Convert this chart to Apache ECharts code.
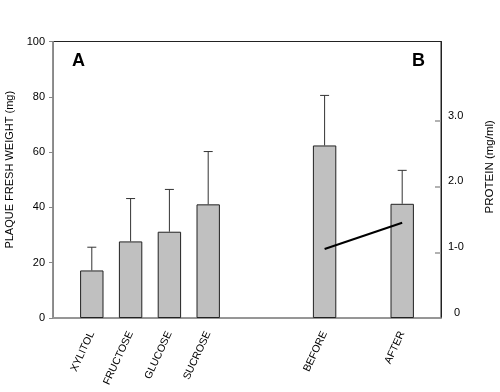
<!DOCTYPE html>
<html>
<head>
<meta charset="utf-8">
<script src="https://cdn.jsdelivr.net/npm/echarts@6/dist/echarts.min.js"></script>
<style>html,body{margin:0;padding:0;background:#fff}#c{width:500px;height:392px}</style>
</head>
<body>
<div id="c"></div>
<script>
// ---- data ----
var categories = ['', 'XYLITOL', 'FRUCTOSE', 'GLUCOSE', 'SUCROSE', '', '', 'BEFORE', '', 'AFTER', ''];
var weight      = [null, 17.2, 27.7, 31.2, 41.1, null, null, 62.4, null, 41.3, null];
var weightUpper = [null, 25.6, 43.2, 46.5, 60.2, null, null, 80.5, null, 53.4, null];
var proteinCats = ['BEFORE', 'AFTER'];
var protein     = [1.05, 1.45];
var leftTicks   = [0, 20, 40, 60, 80, 100];
var rightTicks  = [0, 1, 2, 3];
var rightTickText = {0: '  0', 1: '1-0', 2: '2.0', 3: '3.0'};

var FONT = 'Liberation Sans, Arial, sans-serif';
var chart = echarts.init(document.getElementById('c'));

var errData = [];
weight.forEach(function (v, i) { if (v != null) errData.push([i, v, weightUpper[i]]); });
var protData = proteinCats.map(function (c, i) { return [categories.indexOf(c), protein[i]]; });

chart.setOption({
  animation: false,
  grid: { left: 53, right: 59, top: 41.5, bottom: 74, show: true, borderColor: '#222', borderWidth: 1,
    containLabel: false, outerBoundsMode: 'none' },
  xAxis: {
    type: 'category', data: categories, boundaryGap: false,
    axisLine: { lineStyle: { color: '#999', width: 1.5 } },
    axisTick: { show: false },
    axisLabel: { interval: 0, rotate: 65, fontFamily: FONT, fontSize: 10.5, color: '#000', margin: 14 }
  },
  yAxis: [{
    type: 'value', min: 0, max: 100, interval: 20,
    name: 'PLAQUE FRESH WEIGHT (mg)', nameLocation: 'middle', nameGap: 35, nameRotate: 90,
    nameTextStyle: { fontFamily: FONT, fontSize: 11, color: '#000', padding: [0, 0, 0, 20] },
    axisLine: { show: true, lineStyle: { color: '#888' } },
    axisTick: { show: true, length: 4, lineStyle: { color: '#888' } },
    axisLabel: { fontFamily: FONT, fontSize: 11, color: '#000', margin: 8 },
    splitLine: { show: false }
  }, {
    type: 'value', min: 0, max: 4.21, position: 'right',
    name: 'PROTEIN (mg/ml)', nameLocation: 'middle', nameGap: 43, nameRotate: 90,
    nameTextStyle: { fontFamily: FONT, fontSize: 11.5, color: '#000', padding: [0, 0, 0, 26] },
    axisLine: { show: true, lineStyle: { color: '#222' } },
    axisTick: { show: true, inside: true, length: 6, customValues: [1, 2, 3], lineStyle: { color: '#999', width: 1.5 } },
    axisLabel: { customValues: rightTicks, fontFamily: FONT, fontSize: 11, color: '#000', margin: 7,
      verticalAlign: 'bottom',
      formatter: function (v) { return rightTickText[v] != null ? rightTickText[v] : ''; } },
    splitLine: { show: false }
  }],
  series: [{
    type: 'bar', data: weight, barWidth: 23.4, yAxisIndex: 0,
    itemStyle: { color: '#c0c0c0', borderColor: '#222', borderWidth: 1 }
  }, {
    type: 'custom', yAxisIndex: 0, data: errData, z: 3,
    renderItem: function (params, api) {
      var x = api.value(0);
      var top = api.coord([x, api.value(2)]);
      var base = api.coord([x, api.value(1)]);
      var hw = 4.5;
      return { type: 'group', children: [
        { type: 'line', shape: { x1: top[0], y1: top[1], x2: base[0], y2: base[1] }, style: { stroke: '#333', lineWidth: 1 } },
        { type: 'line', shape: { x1: top[0] - hw, y1: top[1], x2: top[0] + hw, y2: top[1] }, style: { stroke: '#333', lineWidth: 1 } }
      ] };
    }
  }, {
    type: 'line', yAxisIndex: 1, data: protData, symbol: 'none', z: 4,
    lineStyle: { color: '#000', width: 2 }
  }],
  graphic: [
    { type: 'text', left: 72, top: 52, style: { text: 'A', font: 'bold 18px ' + FONT, fill: '#000' } },
    { type: 'text', left: 412, top: 52, style: { text: 'B', font: 'bold 18px ' + FONT, fill: '#000' } }
  ]
});
</script>
</body>
</html>
